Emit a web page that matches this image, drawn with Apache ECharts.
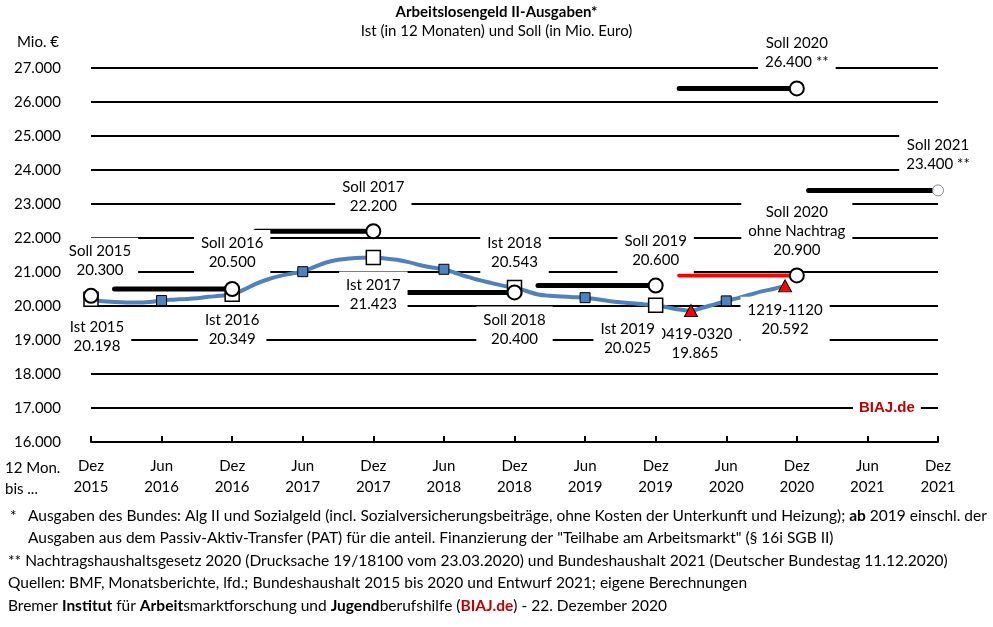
<!DOCTYPE html>
<html><head><meta charset="utf-8">
<script src="https://cdn.jsdelivr.net/npm/echarts@6/dist/echarts.min.js"></script>
<style>html,body{margin:0;padding:0;background:#fff}#c{width:993px;height:627px}</style>
</head><body><div id="c"></div>
<script>
// ---- data ----
const tickLabels = ['Dez\n2015','Jun\n2016','Dez\n2016','Jun\n2017','Dez\n2017','Jun\n2018','Dez\n2018','Jun\n2019','Dez\n2019','Jun\n2020','Dez\n2020','Jun\n2021','Dez\n2021'];
// 12-month rolling expenditure, month index 0 = Dez 2015 ... 59 = Nov 2020
const monthlyIst = [20198,20140,20120,20105,20100,20120,20160,20185,20205,20230,20270,20300,
  20349,20480,20650,20780,20880,20950,21010,21150,21280,21360,21400,21420,
  21423,21400,21360,21290,21200,21130,21080,20970,20860,20760,20680,20600,
  20543,20440,20340,20300,20280,20260,20245,20200,20150,20110,20080,20050,
  20025,19960,19900,19865,19950,20050,20150,20230,20330,20430,20500,20592];
const istMonths = [0,12,24,36,48];
const istValues = [20198,20349,21423,20543,20025];
const istLabels = ['Ist 2015\n20.198','Ist 2016\n20.349','Ist 2017\n21.423','Ist 2018\n20.543','Ist 2019\n20.025'];
const sollValues = [20300,20500,22200,20400,20600,26400,23400];
const sollStartMonths = [null,2,14,26,38,50,61];
const sollEndMonths = [0,12,24,36,48,60,72];
const sollLabels = ['Soll 2015\n20.300','Soll 2016\n20.500','Soll 2017\n22.200','Soll 2018\n20.400','Soll 2019\n20.600','Soll 2020\n26.400 **','Soll 2021\n23.400 **'];
const ohneValue = 20900;
const ohneStartMonth = 50;
const ohneEndMonth = 60;
const ohneLabel = 'Soll 2020\nohne Nachtrag\n20.900';
const junMonths = [6,18,30,42,54];
const triangleMonths = [51,59];
const triangleLabels = ['0419-0320\n19.865','1219-1120\n20.592'];

// ---- layout / style ----
const FONT = 'Lato';
const FS = 15.5;
const istOffsets = [[6,37],[0,36],[0,37],[0,-35],[-28,34]];
const sollOffsets = [[9,-35],[0,-36],[0,-35],[0,37],[0,-35],[0,-36],[0,-36]];
const ohneOffset = [0,-44];
const triOffsets = [[4,33],[0,34]];

const lblBase = {show:true, position:'inside', color:'#000', fontFamily:FONT, fontSize:15, lineHeight:19,
  backgroundColor:'#fff', padding:[4,7], opacity:1};

const series = [];
// Soll segments
sollValues.forEach((v,i)=>{
  if (sollStartMonths[i] === null) return;
  series.push({type:'line', data:[[sollStartMonths[i],v],[sollEndMonths[i],v]], symbol:'none',
    lineStyle:{color:'#000', width:5, cap:'round'}, z:3, silent:true});
});
series.push({type:'line', data:[[ohneStartMonth,ohneValue],[ohneEndMonth,ohneValue]], symbol:'none',
  lineStyle:{color:'#ff0000', width:4, cap:'round'}, z:3});
// Blue rolling line
series.push({type:'line', data:monthlyIst.map((v,i)=>[i,v]), smooth:0.35, symbol:'none',
  lineStyle:{color:'#4f81bd', width:4}, z:4});
// Jun markers
series.push({type:'scatter', data:junMonths.map(m=>[m,monthlyIst[m]]), symbol:'rect', symbolSize:10,
  itemStyle:{color:'#4f81bd', borderColor:'#000', borderWidth:1, opacity:1}, z:5});
// red triangles
series.push({type:'scatter', data:triangleMonths.map((m,i)=>({value:[m,monthlyIst[m]],
  label:Object.assign({}, lblBase, {formatter:triangleLabels[i], offset:triOffsets[i]})})),
  symbol:'triangle', symbolSize:[13,12], itemStyle:{color:'#ff0000', borderColor:'#000', borderWidth:1, opacity:1}, z:5});
// Ist squares
series.push({type:'scatter', data:istMonths.map((m,i)=>({value:[m,istValues[i]],
  label:Object.assign({}, lblBase, {formatter:istLabels[i], offset:istOffsets[i]})})),
  symbol:'rect', symbolSize:14, itemStyle:{color:'#fff', borderColor:'#000', borderWidth:1.5, opacity:1}, z:6});
// Soll circles
series.push({type:'scatter', data:sollValues.map((v,i)=>{
    const last = i === sollValues.length-1;
    return {value:[sollEndMonths[i],v],
      symbolSize: last ? 11 : 14,
      itemStyle: last ? {color:'#fff', borderColor:'#8e7cc3', borderWidth:1, opacity:1} : {color:'#fff', borderColor:'#000', borderWidth:2, opacity:1},
      label:Object.assign({}, lblBase, {formatter:sollLabels[i], offset:sollOffsets[i]})};
  }), symbol:'circle', itemStyle:{opacity:1}, z:7});
series.push({type:'scatter', data:[{value:[ohneEndMonth,ohneValue],
    label:Object.assign({}, lblBase, {formatter:ohneLabel, offset:ohneOffset})}],
  symbol:'circle', symbolSize:14, itemStyle:{color:'#fff', borderColor:'#000', borderWidth:2, opacity:1}, z:7});

const fmt = v => String(v).replace(/\B(?=(\d{3})+(?!\d))/g,'.');

const txt = (left, top, text, extra) => ({type:'text', left, top, z:100,
  style:Object.assign({text, fill:'#000', font:FS+'px '+FONT}, extra||{})});
const richB = {b:{fontWeight:'bold', fontSize:FS, fontFamily:FONT, fill:'#000'},
               n:{fontSize:FS, fontFamily:FONT, fill:'#000'},
               r:{fontWeight:'bold', fontSize:FS, fontFamily:FONT, fill:'#c00000'}};

const option = {
  animation:false,
  backgroundColor:'#fff',
  grid:{left:91, right:55, top:68, bottom:185},
  xAxis:{type:'value', min:0, max:72, interval:6,
    axisLine:{lineStyle:{color:'#000', width:2}},
    axisTick:{inside:true, length:6, lineStyle:{color:'#000', width:2}},
    axisLabel:{formatter:v=>tickLabels[Math.round(v/6)], color:'#000', fontFamily:FONT, fontSize:15, lineHeight:21, margin:14,
      showMinLabel:true, showMaxLabel:true},
    splitLine:{show:false}},
  yAxis:{type:'value', min:16000, max:27000, interval:1000,
    axisLine:{show:false}, axisTick:{show:false},
    axisLabel:{formatter:fmt, color:'#000', fontFamily:FONT, fontSize:15, margin:30},
    splitLine:{lineStyle:{color:'#000', width:2}}},
  series,
  graphic:[
    {type:'text', left:'center', top:5, z:100, style:{text:'Arbeitslosengeld II-Ausgaben*', fill:'#000', font:'bold 15px '+FONT}},
    {type:'text', left:'center', top:24, z:100, style:{text:'Ist (in 12 Monaten) und Soll (in Mio. Euro)', fill:'#000', font:'15px '+FONT}},
    txt(17, 35, 'Mio. €', {font:'15px '+FONT}),
    txt(5, 458, '12 Mon.\nbis ...', {lineHeight:21, font:'15px '+FONT}),
    {type:'text', left:853, top:398, z:100, style:{text:'BIAJ.de', fill:'#c00000', font:'bold 15px Liberation Sans',
      backgroundColor:'#fff', padding:[2,6]}},
    txt(10, 508, '*'),
    {type:'text', left:28, top:508, z:100, style:{text:'{n|Ausgaben des Bundes: Alg II und Sozialgeld (incl. Sozialversicherungsbeiträge, ohne Kosten der Unterkunft und Heizung); }{b|ab}{n| 2019 einschl. der}', rich:richB}},
    txt(28, 530, 'Ausgaben aus dem Passiv-Aktiv-Transfer (PAT) für die anteil. Finanzierung der "Teilhabe am Arbeitsmarkt" (§ 16i SGB II)'),
    txt(8, 553, '** Nachtragshaushaltsgesetz 2020 (Drucksache 19/18100 vom 23.03.2020) und Bundeshaushalt 2021 (Deutscher Bundestag 11.12.2020)'),
    txt(8, 575, 'Quellen: BMF, Monatsberichte, lfd.; Bundeshaushalt 2015 bis 2020 und Entwurf 2021; eigene Berechnungen'),
    {type:'text', left:8, top:598, z:100, style:{text:'{n|Bremer }{b|Institut}{n| für }{b|Arbeit}{n|smarktforschung und }{b|Jugend}{n|berufshilfe (}{r|BIAJ.de}{n|) - 22. Dezember 2020}', rich:richB}}
  ]
};
const chart = echarts.init(document.getElementById('c'), null, {renderer:'canvas'});
chart.setOption(option);
</script></body></html>
